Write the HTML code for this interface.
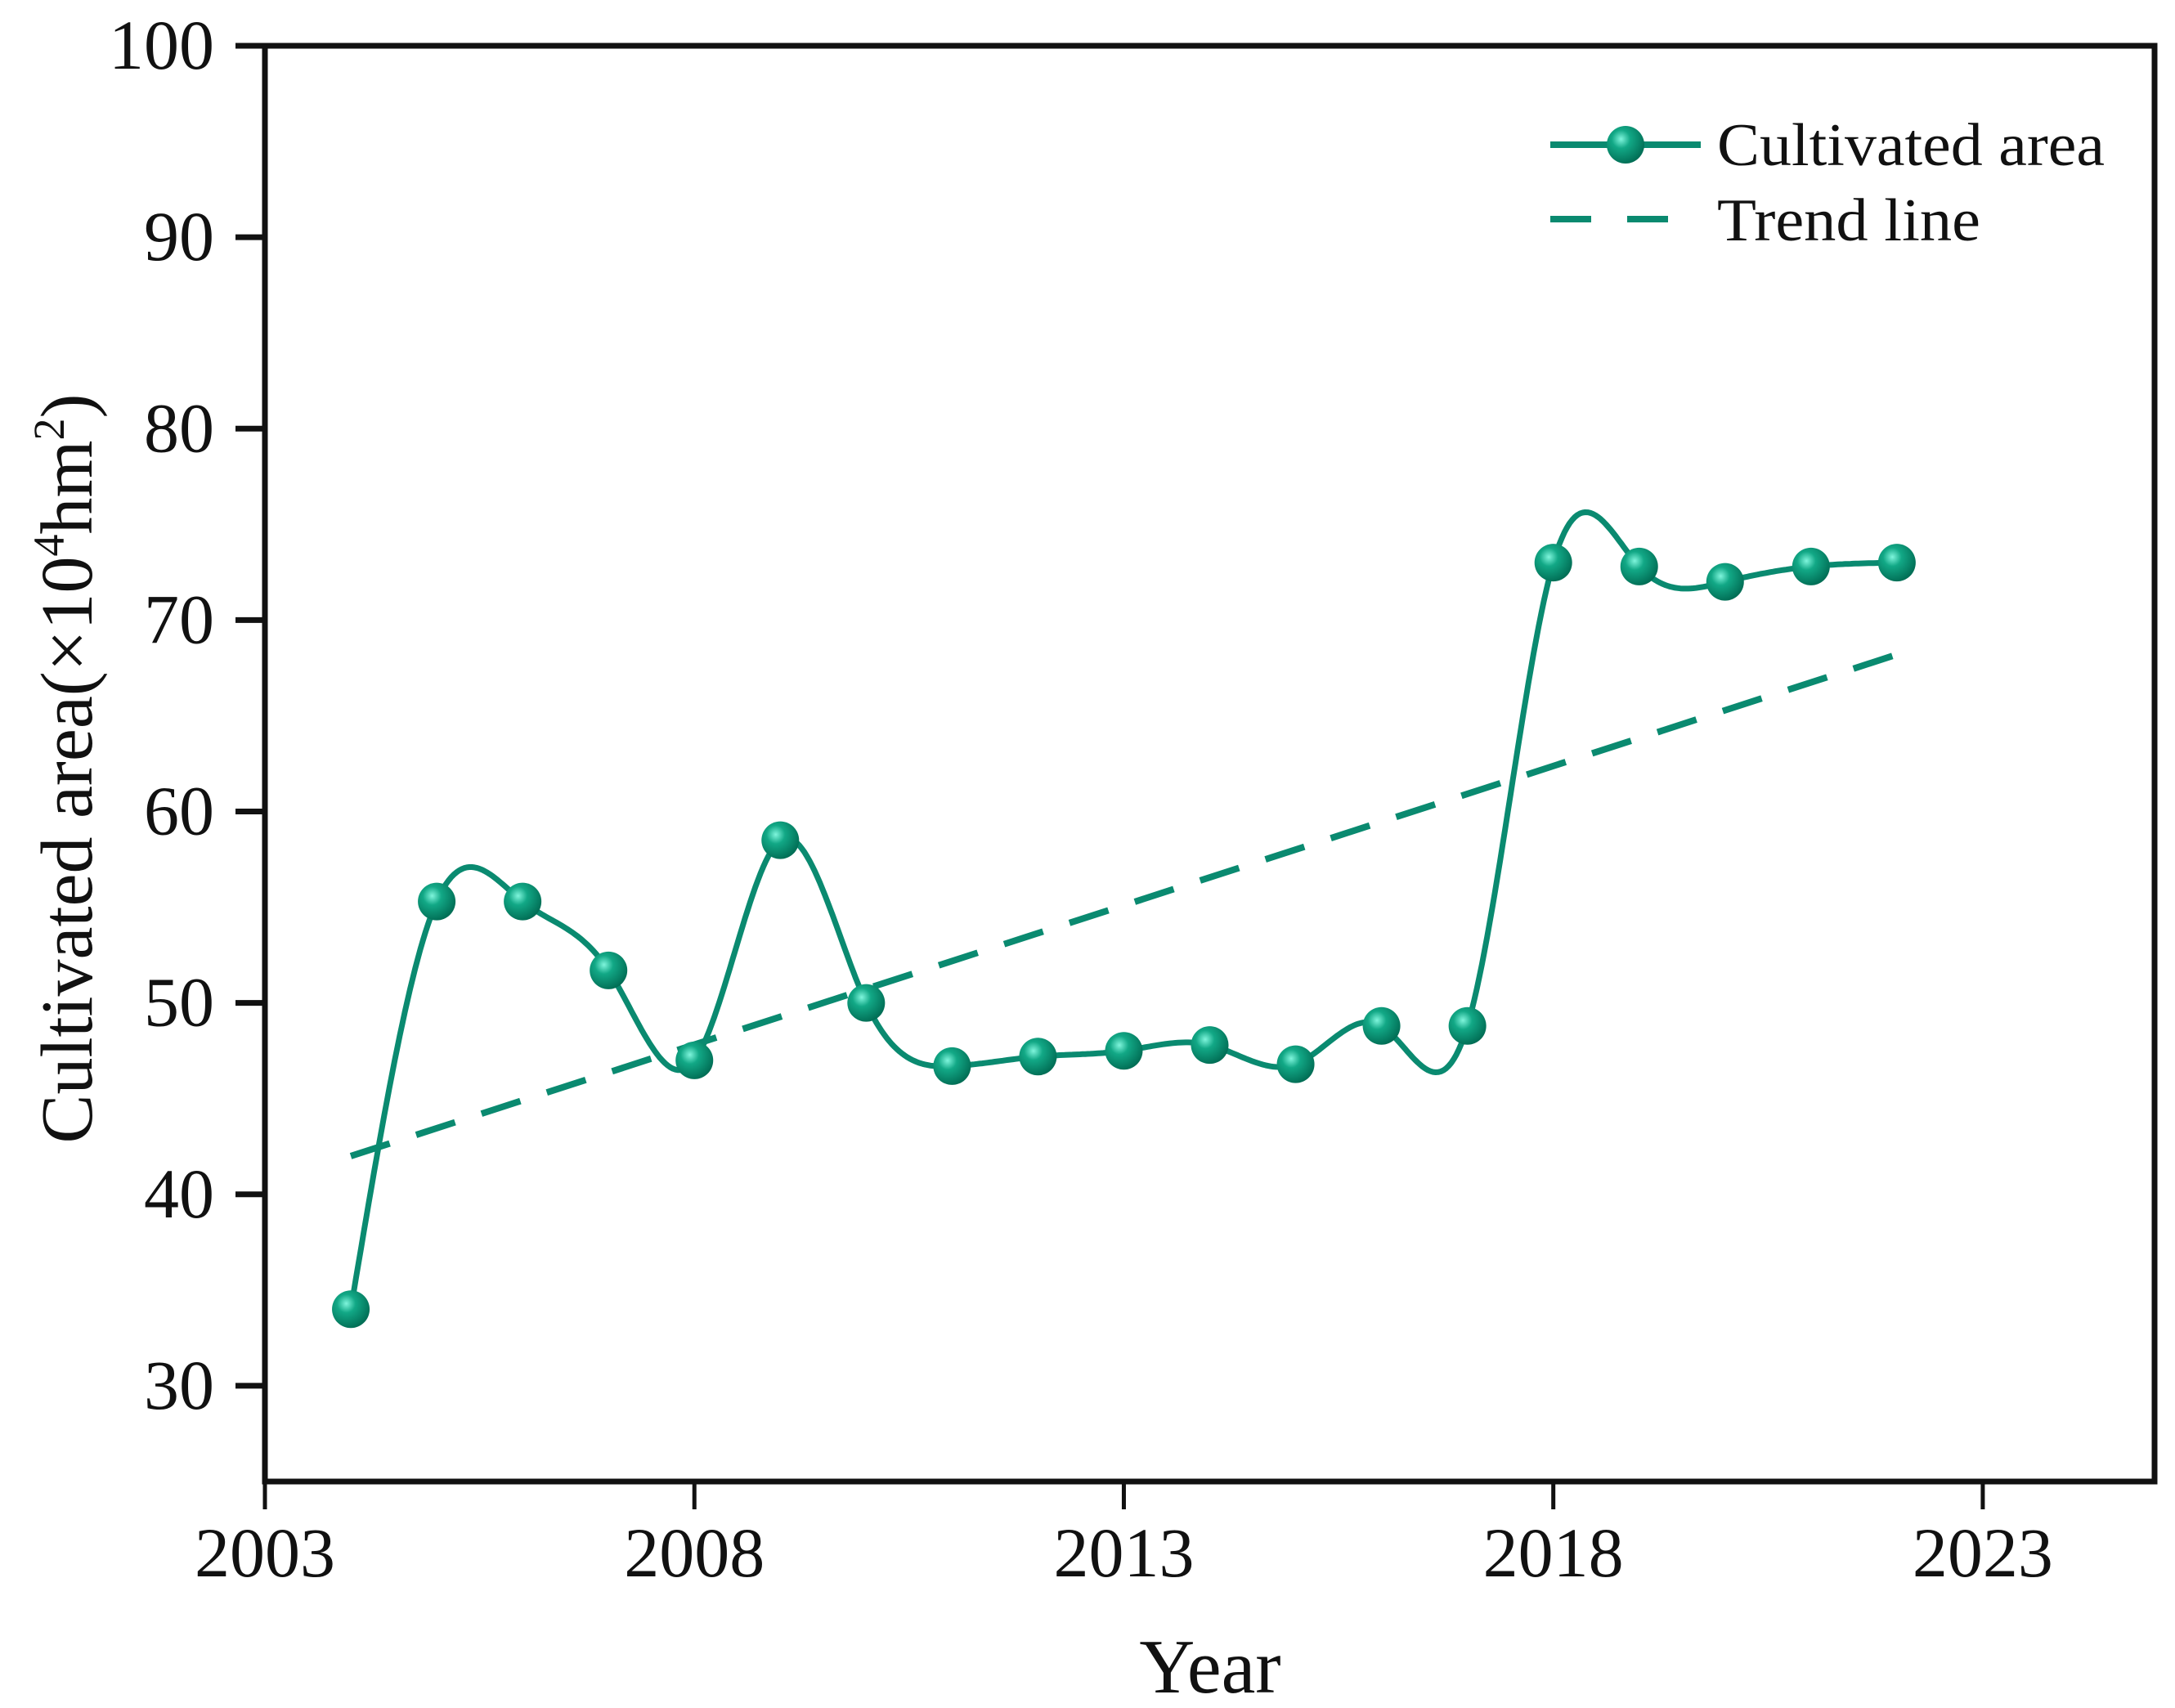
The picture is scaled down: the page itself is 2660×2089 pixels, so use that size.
<!DOCTYPE html>
<html><head><meta charset="utf-8"><style>
html,body{margin:0;padding:0;background:#fff;}
svg{display:block;}
text{font-family:"Liberation Serif",serif;fill:#111;}
</style></head><body>
<svg id="chart" width="2660" height="2089" viewBox="0 0 2660 2089" xmlns="http://www.w3.org/2000/svg">
<defs>
<radialGradient id="ball" cx="0.38" cy="0.35" r="0.7">
<stop offset="0" stop-color="#7ff5dc"/><stop offset="0.35" stop-color="#12a886"/><stop offset="1" stop-color="#006a52"/>
</radialGradient>
</defs>
<g id="axes"></g>
<g id="series"></g>
<g id="legend">
<line x1="1896" y1="177" x2="2080" y2="177" stroke="#0a8a70" stroke-width="8"/>
<circle cx="1988" cy="177" r="23" fill="url(#ball)"/>
<text x="2100" y="202" font-size="74" textLength="474" lengthAdjust="spacingAndGlyphs">Cultivated area</text>
<line x1="1896" y1="268" x2="2080" y2="268" stroke="#0a8a70" stroke-width="8" stroke-dasharray="50 44"/>
<text x="2100" y="294" font-size="74" textLength="322" lengthAdjust="spacingAndGlyphs">Trend line</text>
</g>
<text x="1480" y="2070" font-size="94" text-anchor="middle">Year</text>
<text transform="translate(112,940) rotate(-90)" font-size="90" text-anchor="middle">Cultivated area(×10<tspan font-size="54" dy="-34">4</tspan><tspan dy="34">hm</tspan><tspan font-size="54" dy="-34">2</tspan><tspan dy="34">)</tspan></text>
</svg>
<script>
const years=[2004,2005,2006,2007,2008,2009,2010,2011,2012,2013,2014,2015,2016,2017,2018,2019,2020,2021,2022];
const areaValues=[34,55.3,55.3,51.7,47,58.5,50,46.7,47.2,47.5,47.8,46.8,48.8,48.8,73,72.8,72,72.8,73];
const trendStart=[2004,42];
const trendEnd=[2022,68.2];
const xTicks=[2003,2008,2013,2018,2023];
const yTicks=[30,40,50,60,70,80,90,100];

const X0=324,X1=2635,Y0=1812,Y1=56;
const xMin=2003,xMax=2025,yMin=25,yMax=100;
const PX=(X1-X0)/(xMax-xMin);
function xs(v){return X0+(v-xMin)*PX;}
function ys(v){return Y0-(v-yMin)*(Y0-Y1)/(yMax-yMin);}
const NS='http://www.w3.org/2000/svg';
function mk(tag,attrs,parent){const e=document.createElementNS(NS,tag);for(const k in attrs)e.setAttribute(k,attrs[k]);parent.appendChild(e);return e;}
const axes=document.getElementById('axes');
const series=document.getElementById('series');

let frame=mk('rect',{x:X0,y:Y1,width:X1-X0,height:Y0-Y1,fill:'none',stroke:'#111','stroke-width':7},axes);


yTicks.forEach(v=>{
  const t=mk('line',{x1:X0-36,x2:X0,y1:ys(v),y2:ys(v),stroke:'#111','stroke-width':7},axes);
  
  
  const l=mk('text',{x:X0-62,y:ys(v)+28,'font-size':86,'text-anchor':'end'},axes);
  l.textContent=v;
  
  
});
xTicks.forEach(v=>{
  const t=mk('line',{x1:xs(v),x2:xs(v),y1:Y0,y2:Y0+34,stroke:'#111','stroke-width':5},axes);
  
  
  const l=mk('text',{x:xs(v),y:1928,'font-size':86,'text-anchor':'middle'},axes);
  l.textContent=v;
  
  
});

const tr=mk('line',{x1:xs(trendStart[0]),y1:ys(trendStart[1]),x2:xs(trendEnd[0]),y2:ys(trendEnd[1]),stroke:'#0a8a70','stroke-width':8,'stroke-dasharray':'50 34'},series);



function spline(xa,ya){
  const n=xa.length,h=[],al=[],l=[1],mu=[0],z=[0],c=new Array(n).fill(0),b=[],d=[];
  for(let i=0;i<n-1;i++)h.push(xa[i+1]-xa[i]);
  for(let i=1;i<n-1;i++)al[i]=3/h[i]*(ya[i+1]-ya[i])-3/h[i-1]*(ya[i]-ya[i-1]);
  for(let i=1;i<n-1;i++){l[i]=2*(xa[i+1]-xa[i-1])-h[i-1]*mu[i-1];mu[i]=h[i]/l[i];z[i]=(al[i]-h[i-1]*z[i-1])/l[i];}
  l[n-1]=1;z[n-1]=0;
  for(let j=n-2;j>=0;j--){c[j]=z[j]-mu[j]*c[j+1];b[j]=(ya[j+1]-ya[j])/h[j]-h[j]*(c[j+1]+2*c[j])/3;d[j]=(c[j+1]-c[j])/(3*h[j]);}
  return x=>{let i=Math.min(n-2,Math.max(0,xa.findIndex((v,k)=>k<n-1&&x>=v&&x<=xa[k+1])));const t=x-xa[i];return ya[i]+b[i]*t+c[i]*t*t+d[i]*t*t*t;};
}
const f=spline(years,areaValues);
let dstr='';
const steps=600;
for(let s=0;s<=steps;s++){const x=years[0]+(years[years.length-1]-years[0])*s/steps;dstr+=(s?'L':'M')+xs(x).toFixed(1)+','+ys(f(x)).toFixed(1);}
const p=mk('path',{d:dstr,fill:'none',stroke:'#0a8a70','stroke-width':7,'stroke-linejoin':'round'},series);


years.forEach((y,i)=>{
  const c=mk('circle',{cx:xs(y),cy:ys(areaValues[i]),r:23,fill:'url(#ball)'},series);
  
  
});
</script>
</body></html>
